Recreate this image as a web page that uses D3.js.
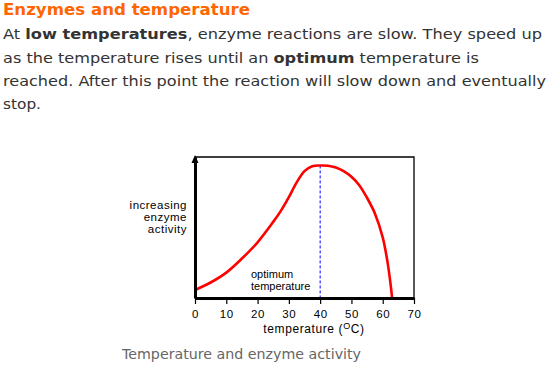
<!DOCTYPE html>
<html>
<head>
<meta charset="utf-8">
<script src="https://cdn.jsdelivr.net/npm/d3@7"></script>
<style>
  body { margin: 0; background: #fff; }
  svg { display: block; }
</style>
</head>
<body>
<div id="chart-wrapper"></div>
<script>
// data
var temps = [0, 5, 10, 15, 20, 25, 27.5, 30, 32.5, 35, 37.5, 40, 42.5, 45, 47.5, 50, 52.5, 55, 57.5, 60, 61.5, 62.5, 63];
var activity = [5.7, 11, 18, 28, 39.5, 54, 62, 71.5, 82, 90, 93.5, 94, 93.8, 92.5, 90, 86, 80, 71, 60, 43, 26, 10, 0];
var xTicks = [0, 10, 20, 30, 40, 50, 60, 70];
var optimumTemp = 40;
var yLabel = ["increasing", "enzyme", "activity"];
var optimumLabel = ["optimum", "temperature"];

var W = 558, H = 367;
var svg = d3.select("#chart-wrapper")
  .append("svg")
    .attr("width", W)
    .attr("height", H);

// heading + paragraph
svg.append("text")
  .attr("x", 3).attr("y", 15)
  .attr("font-family", "DejaVu Sans, Verdana, sans-serif")
  .attr("font-size", 16.5)
  .attr("font-weight", "bold")
  .attr("fill", "#ff6600")
  .attr("textLength", 247).attr("lengthAdjust", "spacingAndGlyphs")
  .text("Enzymes and temperature");

var para = [
  {y: 39, w: 539, parts: [["At ", 0], ["low temperatures", 1], [", enzyme reactions are slow. They speed up", 0]]},
  {y: 62.5, w: 476, parts: [["as the temperature rises until an ", 0], ["optimum", 1], [" temperature is", 0]]},
  {y: 86, w: 543, parts: [["reached. After this point the reaction will slow down and eventually", 0]]},
  {y: 109, w: 38, parts: [["stop.", 0]]}
];
para.forEach(function(l) {
  var t = svg.append("text")
    .attr("x", 3).attr("y", l.y)
    .attr("font-family", "DejaVu Sans, Verdana, sans-serif")
    .attr("font-size", 14.5)
    .attr("fill", "#333")
    .attr("textLength", l.w).attr("lengthAdjust", "spacingAndGlyphs");
  l.parts.forEach(function(p) {
    t.append("tspan").attr("font-weight", p[1] ? "bold" : "normal").text(p[0]);
  });
});

// chart area
var x = d3.scaleLinear().domain([0, 70]).range([195, 414]);
var y = d3.scaleLinear().domain([0, 100]).range([298, 157]);

// top and right frame
svg.append("path")
  .attr("d", `M${x(0)},${y(100)}H${x(70)}V${y(0)}`)
  .attr("fill", "none")
  .attr("stroke", "#000")
  .attr("stroke-width", 1.3);

// dashed optimum line
svg.append("line")
  .attr("x1", x(optimumTemp)).attr("x2", x(optimumTemp))
  .attr("y1", y(94)).attr("y2", y(0))
  .attr("stroke", "#0000ff")
  .attr("stroke-width", 1)
  .attr("stroke-dasharray", "3,2");

// curve
var line = d3.line()
  .x(function(d, i) { return x(temps[i]); })
  .y(function(d) { return y(d); })
  .curve(d3.curveCatmullRom.alpha(0.5));
svg.append("path")
  .datum(activity)
  .attr("d", line)
  .attr("fill", "none")
  .attr("stroke", "#ff0000")
  .attr("stroke-width", 2.6);

// x axis
var xAxis = svg.append("g")
  .attr("transform", `translate(0,${y(0)})`)
  .call(d3.axisBottom(x).tickValues(xTicks).tickSizeInner(6).tickSizeOuter(0).tickPadding(6));
xAxis.select(".domain").attr("stroke-width", 3);
xAxis.selectAll(".tick line").attr("stroke-width", 1.2);
xAxis.selectAll("text")
  .attr("font-family", "Liberation Sans, Arial, sans-serif")
  .attr("font-size", 11.5)
  .attr("letter-spacing", 0.6)
  .attr("fill", "#000");

// y axis (no ticks)
var yAxis = svg.append("g")
  .attr("transform", `translate(${x(0)},0)`)
  .call(d3.axisLeft(y).tickValues([]).tickSizeOuter(0));
yAxis.select(".domain").attr("stroke-width", 3);

// arrow head on y axis
svg.append("path")
  .attr("d", `M${x(0) - 3.5},${y(100) + 6}L${x(0)},${y(100) - 2}L${x(0) + 3.5},${y(100) + 6}Z`)
  .attr("fill", "#000");

// y label
svg.append("g").selectAll("text")
  .data(yLabel)
  .enter()
  .append("text")
    .attr("x", 187)
    .attr("y", function(d, i) { return 209 + i * 12; })
    .attr("text-anchor", "end")
    .attr("font-family", "Liberation Sans, Arial, sans-serif")
    .attr("font-size", 11.5)
    .attr("letter-spacing", 0.5)
    .attr("fill", "#000")
    .text(function(d) { return d; });

// optimum label
svg.append("g").selectAll("text")
  .data(optimumLabel)
  .enter()
  .append("text")
    .attr("x", 251)
    .attr("y", function(d, i) { return 278 + i * 12; })
    .attr("font-family", "Liberation Sans, Arial, sans-serif")
    .attr("font-size", 11)
    .attr("fill", "#000")
    .text(function(d) { return d; });

// x axis title
var xt = svg.append("text")
  .attr("x", 314).attr("y", 333)
  .attr("text-anchor", "middle")
  .attr("font-family", "Liberation Sans, Arial, sans-serif")
  .attr("font-size", 12)
  .attr("letter-spacing", 0.6)
  .attr("fill", "#000");
xt.append("tspan").text("temperature (");
xt.append("tspan").attr("font-size", 9).attr("dy", -4).text("O");
xt.append("tspan").attr("dy", 4).text("C)");

// caption
svg.append("text")
  .attr("x", 122).attr("y", 359)
  .attr("font-family", "DejaVu Sans, Verdana, sans-serif")
  .attr("font-size", 14)
  .attr("fill", "#666")
  .attr("textLength", 239).attr("lengthAdjust", "spacingAndGlyphs")
  .text("Temperature and enzyme activity");
</script>
</body>
</html>
